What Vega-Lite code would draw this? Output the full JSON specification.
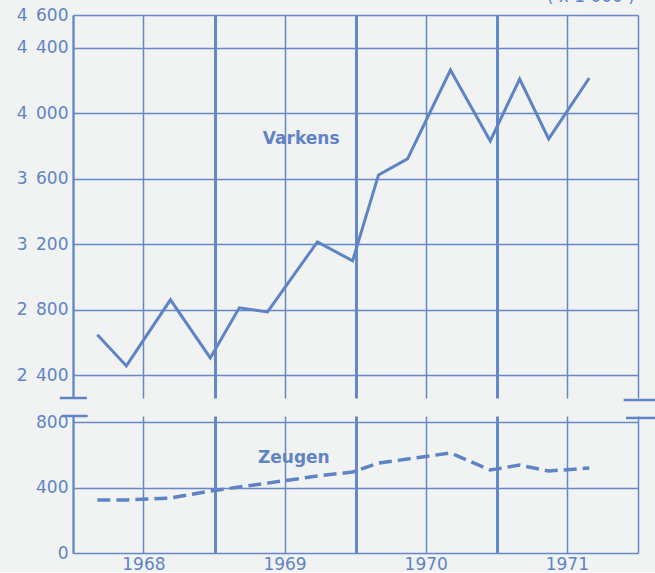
{
  "$schema": "https://vega.github.io/schema/vega-lite/v6.json",
  "background": "#f1f3f2",
  "padding": {"left": 16, "top": -13, "right": 0, "bottom": 0},
  "config": {
    "view": {"stroke": null},
    "axis": {
      "labelColor": "#5f84c6",
      "labelFont": "DejaVu Sans",
      "labelFontSize": 17,
      "gridColor": "#6589c8",
      "gridOpacity": 1,
      "domainColor": "#5f84c6",
      "ticks": false,
      "title": null
    }
  },
  "datasets": {
    "pigs": [
      {"date": "1968-03-04", "varkens": 2646, "zeugen": 324},
      {"date": "1968-05-18", "varkens": 2456, "zeugen": 324},
      {"date": "1968-09-09", "varkens": 2860, "zeugen": 336},
      {"date": "1968-12-21", "varkens": 2505, "zeugen": 379},
      {"date": "1969-03-06", "varkens": 2811, "zeugen": 403},
      {"date": "1969-05-18", "varkens": 2786, "zeugen": 427},
      {"date": "1969-09-24", "varkens": 3214, "zeugen": 470},
      {"date": "1969-12-24", "varkens": 3098, "zeugen": 495},
      {"date": "1970-03-01", "varkens": 3623, "zeugen": 550},
      {"date": "1970-05-15", "varkens": 3721, "zeugen": 574},
      {"date": "1970-09-03", "varkens": 4264, "zeugen": 611},
      {"date": "1970-12-15", "varkens": 3831, "zeugen": 507},
      {"date": "1971-03-01", "varkens": 4209, "zeugen": 537},
      {"date": "1971-05-15", "varkens": 3843, "zeugen": 501},
      {"date": "1971-08-28", "varkens": 4215, "zeugen": 519}
    ]
  },
  "spacing": 18,
  "bounds": "flush",
  "vconcat": [
    {
      "width": 565,
      "height": 383,
      "data": {"name": "pigs"},
      "layer": [
        {
          "mark": {"type": "line", "color": "#5f84c6", "strokeWidth": 3},
          "encoding": {
            "x": {
              "field": "date", "type": "temporal",
              "scale": {"domain": [{"year": 1968, "month": 1, "date": 1}, {"year": 1972, "month": 1, "date": 1}], "nice": false},
              "axis": {
                "values": [
                  {"year": 1968, "month": 1, "date": 1}, {"year": 1968, "month": 4, "date": 1}, {"year": 1968, "month": 7, "date": 1}, {"year": 1968, "month": 10, "date": 1},
                  {"year": 1969, "month": 1, "date": 1}, {"year": 1969, "month": 4, "date": 1}, {"year": 1969, "month": 7, "date": 1}, {"year": 1969, "month": 10, "date": 1},
                  {"year": 1970, "month": 1, "date": 1}, {"year": 1970, "month": 4, "date": 1}, {"year": 1970, "month": 7, "date": 1}, {"year": 1970, "month": 10, "date": 1},
                  {"year": 1971, "month": 1, "date": 1}, {"year": 1971, "month": 4, "date": 1}, {"year": 1971, "month": 7, "date": 1}, {"year": 1971, "month": 10, "date": 1},
                  {"year": 1972, "month": 1, "date": 1}
                ],
                "labels": false, "domain": false, "grid": true,
                "gridWidth": {"condition": {"test": "month(datum.value) == 0 && year(datum.value) > 1968 && year(datum.value) < 1972", "value": 3}, "value": 1.5},
                "minExtent": 0, "maxExtent": 0
              }
            },
            "y": {
              "field": "varkens", "type": "quantitative",
              "scale": {"domain": [2260, 4600], "nice": false, "zero": false},
              "axis": {
                "values": [2400, 2800, 3200, 3600, 4000, 4400, 4600],
                "grid": true, "gridWidth": 1.5, "domainWidth": 2, "labelPadding": 5,
                "labelExpr": "replace(format(datum.value, ','), ',', '\u2002')"
              }
            }
          }
        },
        {
          "data": {"values": [{}]},
          "mark": {"type": "rule", "color": "#5f84c6", "strokeWidth": 2.5},
          "encoding": {
            "x": {"datum": {"year": 1967, "month": 11, "date": 28}, "type": "temporal"},
            "x2": {"datum": {"year": 1968, "month": 2, "date": 6}},
            "y": {"datum": 2260, "type": "quantitative"}
          }
        },
        {
          "data": {"values": [{}]},
          "mark": {"type": "rule", "color": "#5f84c6", "strokeWidth": 2.5},
          "encoding": {
            "x": {"datum": {"year": 1971, "month": 11, "date": 25}, "type": "temporal"},
            "x2": {"datum": {"year": 1972, "month": 2, "date": 14}},
            "y": {"datum": 2248, "type": "quantitative"}
          }
        },
        {
          "data": {"values": [{}]},
          "mark": {"type": "text", "color": "#5f84c6", "font": "DejaVu Sans", "fontSize": 17, "fontWeight": "bold", "baseline": "middle", "align": "center"},
          "encoding": {
            "x": {"datum": {"year": 1969, "month": 8, "date": 13}, "type": "temporal"},
            "y": {"datum": 3840, "type": "quantitative"},
            "text": {"value": "Varkens"}
          }
        },
        {
          "data": {"values": [{}]},
          "mark": {"type": "text", "color": "#5f84c6", "font": "DejaVu Sans", "fontSize": 17, "baseline": "bottom", "align": "center"},
          "encoding": {
            "x": {"datum": {"year": 1971, "month": 9, "date": 1}, "type": "temporal"},
            "y": {"datum": 4655, "type": "quantitative"},
            "text": {"value": "( x 1 000 )"}
          }
        }
      ]
    },
    {
      "width": 565,
      "height": 137,
      "data": {"name": "pigs"},
      "layer": [
        {
          "mark": {"type": "line", "color": "#5f84c6", "strokeWidth": 3.5, "strokeDash": [13, 6]},
          "encoding": {
            "x": {
              "field": "date", "type": "temporal",
              "scale": {"domain": [{"year": 1968, "month": 1, "date": 1}, {"year": 1972, "month": 1, "date": 1}], "nice": false},
              "axis": {
                "values": [
                  {"year": 1968, "month": 1, "date": 1}, {"year": 1968, "month": 4, "date": 1}, {"year": 1968, "month": 7, "date": 1}, {"year": 1968, "month": 10, "date": 1},
                  {"year": 1969, "month": 1, "date": 1}, {"year": 1969, "month": 4, "date": 1}, {"year": 1969, "month": 7, "date": 1}, {"year": 1969, "month": 10, "date": 1},
                  {"year": 1970, "month": 1, "date": 1}, {"year": 1970, "month": 4, "date": 1}, {"year": 1970, "month": 7, "date": 1}, {"year": 1970, "month": 10, "date": 1},
                  {"year": 1971, "month": 1, "date": 1}, {"year": 1971, "month": 4, "date": 1}, {"year": 1971, "month": 7, "date": 1}, {"year": 1971, "month": 10, "date": 1},
                  {"year": 1972, "month": 1, "date": 1}
                ],
                "domain": false, "grid": true, "labelPadding": 3, "labelOverlap": false,
                "labelExpr": "month(datum.value) == 6 ? timeFormat(datum.value, '%Y') : ''",
                "gridWidth": {"condition": {"test": "month(datum.value) == 0 && year(datum.value) > 1968 && year(datum.value) < 1972", "value": 3}, "value": 1.5}
              }
            },
            "y": {
              "field": "zeugen", "type": "quantitative",
              "scale": {"domain": [0, 837], "nice": false},
              "axis": {
                "values": [0, 400, 800],
                "grid": true, "gridWidth": 1.5, "domainWidth": 2, "labelPadding": 5
              }
            }
          }
        },
        {
          "data": {"values": [{}]},
          "mark": {"type": "rule", "color": "#5f84c6", "strokeWidth": 2.5},
          "encoding": {
            "x": {"datum": {"year": 1967, "month": 12, "date": 3}, "type": "temporal"},
            "x2": {"datum": {"year": 1968, "month": 2, "date": 8}},
            "y": {"datum": 837, "type": "quantitative"}
          }
        },
        {
          "data": {"values": [{}]},
          "mark": {"type": "rule", "color": "#5f84c6", "strokeWidth": 2.5},
          "encoding": {
            "x": {"datum": {"year": 1971, "month": 12, "date": 1}, "type": "temporal"},
            "x2": {"datum": {"year": 1972, "month": 2, "date": 14}},
            "y": {"datum": 825, "type": "quantitative"}
          }
        },
        {
          "data": {"values": [{}]},
          "mark": {"type": "text", "color": "#5f84c6", "font": "DejaVu Sans", "fontSize": 17, "fontWeight": "bold", "baseline": "middle", "align": "center"},
          "encoding": {
            "x": {"datum": {"year": 1969, "month": 7, "date": 25}, "type": "temporal"},
            "y": {"datum": 580, "type": "quantitative"},
            "text": {"value": "Zeugen"}
          }
        }
      ]
    }
  ]
}
